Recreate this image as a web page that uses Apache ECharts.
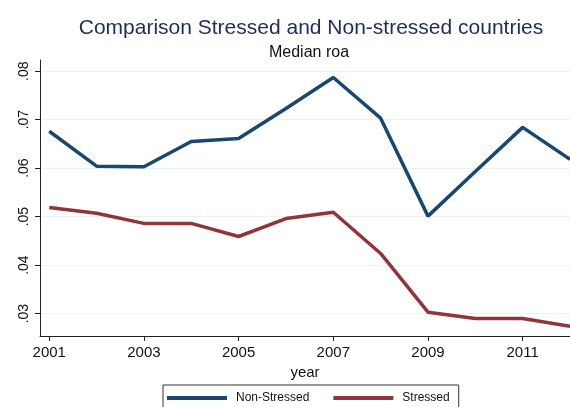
<!DOCTYPE html>
<html><head><meta charset="utf-8">
<script src="https://cdn.jsdelivr.net/npm/echarts@6/dist/echarts.min.js"></script>
<style>html,body{margin:0;padding:0;background:#fff}#c{width:570px;height:407px}</style>
</head><body><div id="c"></div>
<script>
const years = [2001,2002,2003,2004,2005,2006,2007,2008,2009,2010,2011,2012];
const nonStressed = [0.0676,0.0604,0.0603,0.0655,0.0661,0.0723,0.0787,0.0703,0.0501,0.0593,0.0684,0.0618];
const stressed = [0.0519,0.0507,0.0486,0.0486,0.0459,0.0496,0.0509,0.0424,0.0303,0.0290,0.0290,0.0274];
const xTicks = [2001,2003,2005,2007,2009,2011];
const yTicks = [0.03,0.04,0.05,0.06,0.07,0.08];

const chart = echarts.init(document.getElementById('c'));
const font = 'Liberation Sans, Arial, sans-serif';
chart.setOption({
  animation:false,
  backgroundColor:'#fff',
  title:[
    {text:'Comparison Stressed and Non-stressed countries', left:306, top:13, textAlign:'center',
     textStyle:{fontFamily:font,fontSize:21,fontWeight:'normal',color:'#1c2d57'}},
    {text:'Median roa', left:304, top:40, textAlign:'center',
     textStyle:{fontFamily:font,fontSize:16,fontWeight:'normal',color:'#111'}}
  ],
  grid:{left:40,right:0,top:60,bottom:71,containLabel:false},
  legend:{
    data:['Non-Stressed','Stressed'], left:163, top:385,
    orient:'horizontal', itemWidth:60, itemHeight:4, itemGap:24, icon:'rect',
    padding:[7,9,7,4], borderColor:'#333', borderWidth:1,
    textStyle:{fontFamily:font,fontSize:12,color:'#111',padding:[0,0,0,4]}
  },
  xAxis:{
    type:'value', min:2000.805, max:2012,
    name:'year', nameLocation:'middle', nameGap:27,
    nameTextStyle:{fontFamily:font,fontSize:15,color:'#111'},
    axisLine:{show:true,onZero:false,lineStyle:{color:'#222',width:1}},
    axisTick:{show:true,length:5,customValues:xTicks,lineStyle:{color:'#222'}},
    axisLabel:{customValues:xTicks,fontFamily:font,fontSize:15,color:'#111',margin:9,
               formatter:v=>String(Math.round(v))},
    splitLine:{show:false}
  },
  yAxis:{
    type:'value', min:0.02538, max:0.0823,
    axisLine:{show:true,onZero:false,lineStyle:{color:'#222',width:1}},
    axisTick:{show:true,length:5,customValues:yTicks,lineStyle:{color:'#222'}},
    axisLabel:{customValues:yTicks,rotate:90,fontFamily:font,fontSize:14,color:'#111',margin:9,
               formatter:v=>v.toFixed(2).replace(/^0/,'')},
    splitLine:{show:true,customValues:yTicks,lineStyle:{color:'#eaf2f3',width:1}}
  },
  series:[
    {name:'Non-Stressed',type:'line',data:years.map((y,i)=>[y,nonStressed[i]]),
     showSymbol:false,lineStyle:{width:3.5,color:'#1a476f'},itemStyle:{color:'#1a476f'}},
    {name:'Stressed',type:'line',data:years.map((y,i)=>[y,stressed[i]]),
     showSymbol:false,lineStyle:{width:3.5,color:'#90353b'},itemStyle:{color:'#90353b'}}
  ]
});
</script></body></html>
